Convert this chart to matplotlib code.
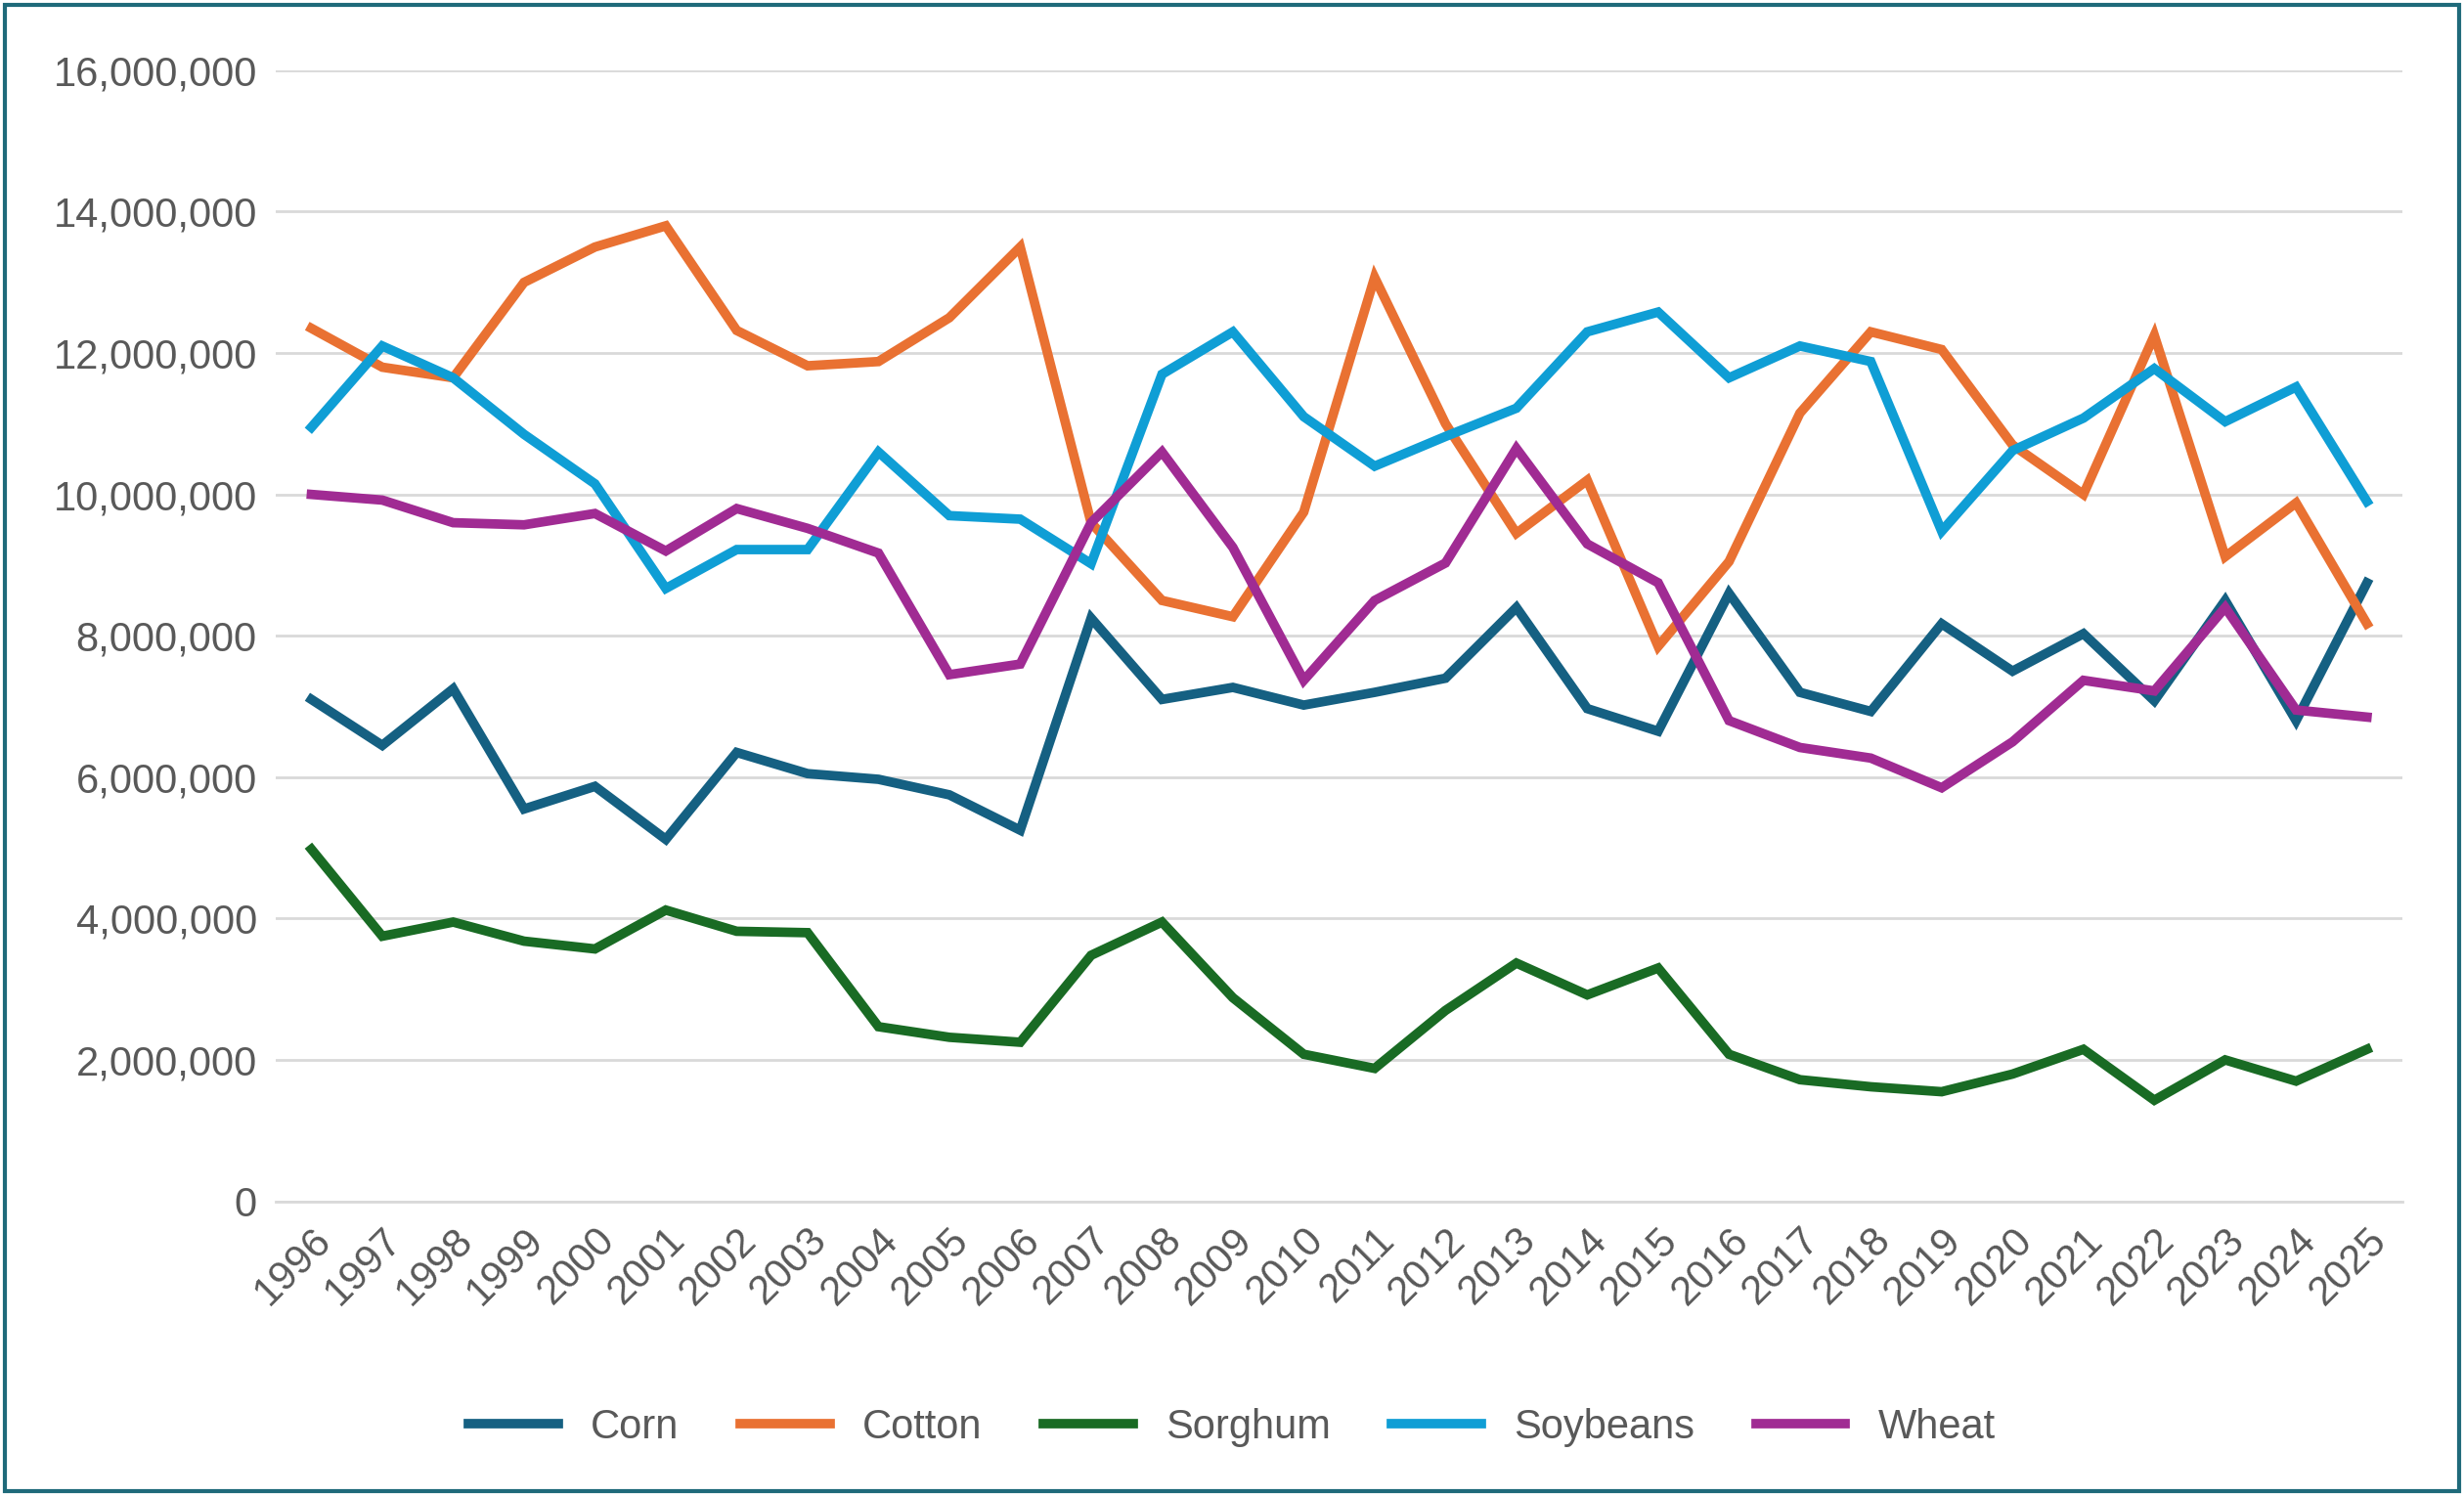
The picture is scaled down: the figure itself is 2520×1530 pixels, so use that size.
import matplotlib.pyplot as plt
from matplotlib.ticker import FuncFormatter
from matplotlib.patches import Rectangle

years = list(range(1996, 2026))

corn = [7.1, 6.45, 7.25, 5.55, 5.87, 5.12, 6.35, 6.05, 5.97, 5.75, 5.25, 8.25, 7.1, 7.27, 7.02,
        7.2, 7.4, 8.4, 6.97, 6.65, 8.6, 7.2, 6.93, 8.17, 7.5, 8.03, 7.08, 8.5, 6.8, 8.75]
cotton = [12.35, 11.8, 11.65, 13.0, 13.5, 13.8, 12.32, 11.82, 11.88, 12.5, 13.5, 9.6, 8.5, 8.27, 9.75,
          13.07, 11.0, 9.45, 10.2, 7.85, 9.05, 11.15, 12.3, 12.05, 10.7, 10.0, 12.25, 9.12, 9.88, 8.17]
sorghum = [4.98, 3.75, 3.95, 3.68, 3.57, 4.12, 3.82, 3.8, 2.47, 2.32, 2.25, 3.48, 3.95, 2.88, 2.08,
           1.88, 2.7, 3.37, 2.92, 3.3, 2.08, 1.72, 1.62, 1.55, 1.8, 2.15, 1.43, 2.0, 1.7, 2.15]
soybeans = [10.95, 12.1, 11.65, 10.85, 10.15, 8.67, 9.22, 9.22, 10.6, 9.7, 9.65, 9.02, 11.7, 12.3, 11.1,
            10.4, 10.82, 11.22, 12.3, 12.58, 11.65, 12.1, 11.88, 9.48, 10.62, 11.08, 11.78, 11.03, 11.52, 9.9]
wheat = [10.0, 9.92, 9.6, 9.57, 9.73, 9.2, 9.8, 9.52, 9.17, 7.45, 7.6, 9.6, 10.6, 9.25, 7.37,
         8.5, 9.03, 10.65, 9.3, 8.75, 6.8, 6.42, 6.27, 5.85, 6.5, 7.37, 7.22, 8.4, 6.95, 6.85]

series = [("Corn", corn, "#156082"), ("Cotton", cotton, "#E97132"), ("Sorghum", sorghum, "#196B24"),
          ("Soybeans", soybeans, "#0F9ED5"), ("Wheat", wheat, "#A02B93")]

plt.rcParams['font.family'] = ['Liberation Sans', 'DejaVu Sans']
fig = plt.figure(figsize=(25.2, 15.3), dpi=100)
ax = fig.add_axes([0.112, 0.197, 0.863, 0.756])

x = list(range(len(years)))
for name, vals, col in series:
    ax.plot(x, [v * 1e6 for v in vals], color=col, lw=7, label=name, solid_joinstyle='miter')

ax.set_ylim(0, 16e6)
ax.set_yticks(range(0, 16000001, 2000000))
ax.yaxis.set_major_formatter(FuncFormatter(lambda v, p: "{:,.0f}".format(v)))
ax.set_xlim(-0.5, len(years) - 0.5)
ax.set_xticks(x)
ax.set_xticklabels([str(y) for y in years], rotation=45, ha='right', rotation_mode='anchor')
ax.tick_params(labelsize=30, colors='#595959', length=0, pad=14)
ax.grid(axis='y', color='#D9D9D9', lw=2)
ax.set_axisbelow(True)
for s in ['top', 'right', 'left']:
    ax.spines[s].set_visible(False)
ax.spines['bottom'].set_color('#D9D9D9')
ax.spines['bottom'].set_linewidth(2)

fig.legend(loc='center', bbox_to_anchor=(0.5, 0.046), ncol=5, frameon=False,
           fontsize=30, labelcolor='#595959', handlelength=2.2, columnspacing=1.5)
fig.patches.append(Rectangle((0.002, 0.003), 0.996, 0.994, transform=fig.transFigure,
                             fill=False, edgecolor='#1F6A7A', lw=3))
fig.savefig("out.png")
